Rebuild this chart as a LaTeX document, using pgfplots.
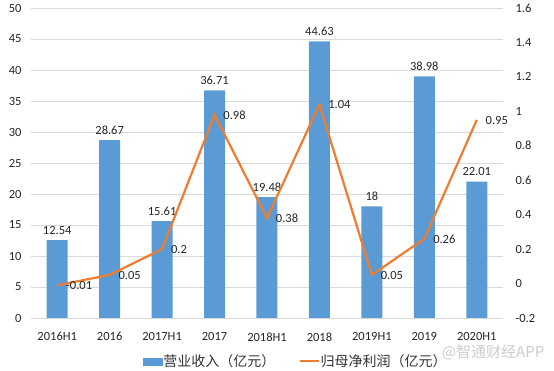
\documentclass[border=0pt]{standalone}
\usepackage{pgfplots}
\pgfplotsset{compat=1.18}
\usepackage{fontspec}
\setmainfont{Carlito}
\newfontfamily\cjk{Noto Sans CJK SC}
\definecolor{barblue}{HTML}{5B9BD5}
\definecolor{lineor}{HTML}{ED7D31}
\begin{document}
\begin{tikzpicture}
\useasboundingbox (-31pt,-53pt) rectangle (523pt,318pt);
\begin{axis}[
  at={(0,0)}, anchor=south west, scale only axis,
  width=472pt, height=310pt,
  xmin=-0.5, xmax=8.5, ymin=0, ymax=50,
  ytick={0,5,...,50},
  xtick={0,...,8},
  xticklabels={2016H1,2016,2017H1,2017,2018H1,2018,2019H1,2019,2020H1},
  axis line style={draw=none},
  major tick length=0pt,
  ymajorgrids, grid style={black!15, line width=0.8pt},
  tick label style={font=\fontsize{12.5}{14}\selectfont, text=black!85},
  yticklabel style={xshift=-6pt},
  xticklabel style={yshift=-11pt},
  /pgf/number format/assume math mode=true,
  clip=false,
]
\addplot[ybar, bar width=21pt, bar shift=0pt, fill=barblue, draw=none,
  nodes near coords,
  nodes near coords style={font=\fontsize{12.5}{14}\selectfont, text=black!85, yshift=2pt}]
  coordinates {(0,12.54) (1,28.67) (2,15.61) (3,36.71) (4,19.48) (5,44.63) (6,18) (7,38.98) (8,22.01)};
\end{axis}
\begin{axis}[
  at={(0,0)}, anchor=south west, scale only axis,
  width=472pt, height=310pt,
  xmin=-0.5, xmax=8.5, ymin=-0.2, ymax=1.6,
  ytick={-0.2,0,0.2,0.4,0.6,0.8,1,1.2,1.4,1.6},
  yticklabels={-0.2,0,0.2,0.4,0.6,0.8,1,1.2,1.4,1.6},
  axis y line*=right, hide x axis,
  axis line style={draw=none},
  major tick length=0pt,
  tick label style={font=\fontsize{12.5}{14}\selectfont, text=black!85},
  yticklabel style={xshift=9pt},
  clip=false,
  legend image code/.code={},
  legend style={at={(0.237,-0.14)}, anchor=west, legend columns=2, draw=none,
    inner sep=0pt, fill=none,
    font=\cjk\fontsize{14}{16}\selectfont, text=black!80,
    nodes={inner xsep=1pt},
    /tikz/every even column/.append style={column sep=22pt}},
]
\addlegendimage{legend image code/.code={\fill[barblue] (0pt,-3.5pt) rectangle (19pt,3.5pt);}}
\addlegendentry{营业收入（亿元）}
\addplot[lineor, line width=2.2pt, mark=none,
  point meta=explicit symbolic,
  nodes near coords,
  nodes near coords style={font=\fontsize{12.5}{14}\selectfont, text=black!85, anchor=west, xshift=4.5pt, yshift=-0.5pt},
  legend image code/.code={\draw[lineor, line width=2.2pt] (0pt,0pt) -- (19pt,0pt);}]
  coordinates {(0,-0.01)[-0.01] (1,0.05)[0.05] (2,0.2)[0.2] (3,0.98)[0.98] (4,0.38)[0.38] (5,1.04)[1.04] (6,0.05)[0.05] (7,0.26)[0.26] (8,0.95)[0.95]};
\addlegendentry{归母净利润（亿元）}
\node[font=\cjk\fontsize{15}{17}\selectfont, text=black!20, anchor=east] at (rel axis cs:1.095,-0.11) {@智通财经APP};
\end{axis}
\end{tikzpicture}
\end{document}
